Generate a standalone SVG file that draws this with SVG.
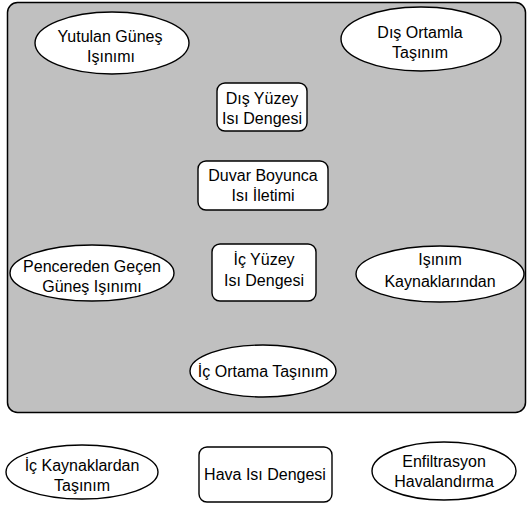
<svg xmlns="http://www.w3.org/2000/svg" width="529" height="507" viewBox="0 0 529 507">
<style>
.bg{fill:#c0c0c0;stroke:#000;stroke-width:1.5}
.n{fill:#fff;stroke:#000;stroke-width:1.4}
text{font-family:"Liberation Sans",Arial,sans-serif;font-size:16px;fill:#000;text-anchor:middle}
</style>
<rect width="529" height="507" fill="#fff"/>
<rect class="bg" x="7.5" y="2.5" width="518" height="410" rx="10"/>
<g id="yutulan"><ellipse class="n" cx="112" cy="43" rx="77" ry="31"/><text x="110" y="42">Yutulan Güneş</text><text x="111" y="62">Işınımı</text></g>
<g id="disortam"><ellipse class="n" cx="421" cy="39" rx="80" ry="32"/><text x="420" y="38">Dış Ortamla</text><text x="420" y="58">Taşınım</text></g>
<g id="disyuzey"><rect class="n" x="217" y="83" width="90" height="48" rx="8"/><text x="262" y="104">Dış Yüzey</text><text x="262" y="124">Isı Dengesi</text></g>
<g id="duvar"><rect class="n" x="198" y="161" width="130" height="49" rx="8"/><text x="263" y="181">Duvar Boyunca</text><text x="263" y="201">Isı İletimi</text></g>
<g id="icyuzey"><rect class="n" x="212" y="244" width="104" height="57" rx="8"/><text x="264" y="265">İç Yüzey</text><text x="264" y="286">Isı Dengesi</text></g>
<g id="pencere"><ellipse class="n" cx="92" cy="273" rx="82" ry="28"/><text x="92" y="272">Pencereden Geçen</text><text x="92" y="292">Güneş Işınımı</text></g>
<g id="isinim"><ellipse class="n" cx="440" cy="274" rx="84" ry="28"/><text x="440" y="265">Işınım</text><text x="440" y="287">Kaynaklarından</text></g>
<g id="icortam"><ellipse class="n" cx="263" cy="371" rx="73" ry="26"/><text x="263" y="377">İç Ortama Taşınım</text></g>
<g id="ickaynak"><ellipse class="n" cx="82" cy="472" rx="76" ry="27"/><text x="82" y="471">İç Kaynaklardan</text><text x="82" y="491">Taşınım</text></g>
<g id="hava"><rect class="n" x="199" y="447" width="133" height="55" rx="8"/><text x="265" y="480">Hava Isı Dengesi</text></g>
<g id="enfil"><ellipse class="n" cx="444" cy="471" rx="72" ry="29"/><text x="444" y="467">Enfiltrasyon</text><text x="444" y="487">Havalandırma</text></g>
<g id="connectors"></g>
</svg>
